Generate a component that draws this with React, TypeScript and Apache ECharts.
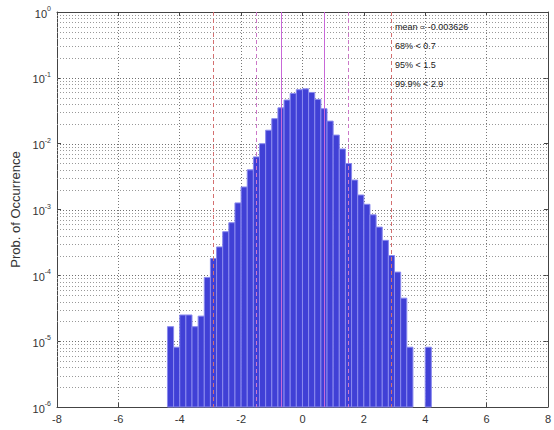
import React, { useEffect, useRef } from "react";
import * as echarts from "echarts";

// Histogram bin centres (bin width 0.2)
const binCenters = [
  -4.3, -4.1, -3.9, -3.7, -3.5, -3.3, -3.1, -2.9, -2.7, -2.5, -2.3,
  -2.1, -1.9, -1.7, -1.5, -1.3, -1.1, -0.9, -0.7, -0.5, -0.3, -0.1,
  0.1, 0.3, 0.5, 0.7, 0.9, 1.1, 1.3, 1.5, 1.7, 1.9, 2.1,
  2.3, 2.5, 2.7, 2.9, 3.1, 3.3, 3.5, 3.7, 3.9, 4.1, 4.3,
];
// Probability of occurrence per bin (0 = empty bin)
const probs = [
  1.66e-5, 8.1e-6, 2.5e-5, 2.5e-5, 1.66e-5, 2.4e-5, 9.3e-5, 1.8e-4, 2.7e-4, 4.6e-4, 6.3e-4,
  1.26e-3, 2.2e-3, 4.0e-3, 6.3e-3, 0.010, 0.016, 0.024, 0.035, 0.046, 0.058, 0.066,
  0.068, 0.06, 0.047, 0.034, 0.022, 0.0135, 8.3e-3, 5.0e-3, 2.8e-3, 1.66e-3, 1.2e-3,
  8.3e-4, 5.4e-4, 3.4e-4, 2.0e-4, 1.12e-4, 4.5e-5, 8.1e-6, 0, 0, 8.1e-6, 0,
];
const binWidth = 0.2;

// Percentile markers
const lines68 = [-0.7, 0.7];
const lines95 = [-1.5, 1.5];
const lines999 = [-2.9, 2.9];

const annotations = ["mean = -0.003626", "68% < 0.7", "95% < 1.5", "99.9% < 2.9"];

// Axis definitions
const xTicks = [-8, -6, -4, -2, 0, 2, 4, 6, 8];
const yDecades = [1e-6, 1e-5, 1e-4, 1e-3, 1e-2, 1e-1, 1];
const minorMultipliers = [2, 3, 4, 5, 6, 7, 8, 9];

const FONT = "'Liberation Sans', Arial, Helvetica, sans-serif";

export default function App() {
  const ref = useRef<HTMLDivElement>(null);

  useEffect(() => {
    if (!ref.current) return;
    const chart = echarts.init(ref.current, null, { renderer: "svg" });

    const barData = binCenters
      .map((c, i) => [c, probs[i]])
      .filter((d) => d[1] > 0);

    const minorGrid: number[][] = [];
    yDecades.slice(0, -1).forEach((d) => {
      minorMultipliers.forEach((m) => minorGrid.push([-8, d * m]));
    });
    const majorGrid = yDecades.slice(1, -1).map((d) => [-8, d]);

    const hLineRender = (color: string) => (params: any, api: any) => {
      const v = api.value(1);
      const p1 = api.coord([xTicks[0], v]);
      const p2 = api.coord([xTicks[xTicks.length - 1], v]);
      return {
        type: "line",
        shape: { x1: p1[0], y1: Math.round(p1[1]) + 0.5, x2: p2[0], y2: Math.round(p1[1]) + 0.5 },
        style: { stroke: color, lineWidth: 1, lineDash: [1, 2] },
        silent: true,
      };
    };

    const vLineRender = (color: string, dash: number[] | null) => (params: any, api: any) => {
      const x = api.value(0);
      const p1 = api.coord([x, 1]);
      const p2 = api.coord([x, 1e-6]);
      const xx = Math.round(p1[0]) + 0.5;
      return {
        type: "line",
        shape: { x1: xx, y1: p1[1], x2: xx, y2: p2[1] },
        style: { stroke: color, lineWidth: 1, lineDash: dash || undefined },
        silent: true,
      };
    };

    const option: any = {
      animation: false,
      backgroundColor: "#ffffff",
      textStyle: { fontFamily: FONT },
      grid: { left: 57, right: 5, top: 12, bottom: 23, containLabel: false },
      xAxis: [
        {
          type: "value",
          min: -8,
          max: 8,
          interval: 2,
          position: "bottom",
          axisLine: { show: true, onZero: false, lineStyle: { color: "#444", width: 1 } },
          axisTick: { show: true, inside: true, length: 4, lineStyle: { color: "#444" } },
          axisLabel: { color: "#333", fontSize: 11, margin: 6, fontFamily: FONT },
          splitLine: { show: true, lineStyle: { color: "#777", type: [1, 2], width: 1 } },
        },
        {
          type: "value",
          min: -8,
          max: 8,
          interval: 2,
          position: "top",
          axisLine: { show: true, onZero: false, lineStyle: { color: "#444", width: 1 } },
          axisTick: { show: true, inside: true, length: 4, lineStyle: { color: "#444" } },
          axisLabel: { show: false },
          splitLine: { show: false },
        },
      ],
      yAxis: [
        {
          type: "log",
          logBase: 10,
          min: 1e-6,
          max: 1,
          interval: 1,
          position: "left",
          name: "Prob. of Occurrence",
          nameLocation: "middle",
          nameGap: 30,
          nameTextStyle: { color: "#333", fontSize: 13, fontFamily: FONT },
          axisLine: { show: true, onZero: false, lineStyle: { color: "#444", width: 1 } },
          axisTick: { show: true, inside: true, length: 4, lineStyle: { color: "#444" } },
          axisLabel: {
            color: "#333",
            margin: 6,
            formatter: (v: number) => {
              const e = Math.round(Math.log10(v));
              return `{b|10}{s|${e}}`;
            },
            rich: {
              b: { fontSize: 11, lineHeight: 14, color: "#333", fontFamily: FONT, verticalAlign: "bottom" },
              s: { fontSize: 7, lineHeight: 8, color: "#333", fontFamily: FONT, verticalAlign: "top" },
            },
          },
          splitLine: { show: false },
        },
        {
          type: "log",
          logBase: 10,
          min: 1e-6,
          max: 1,
          interval: 1,
          position: "right",
          axisLine: { show: true, onZero: false, lineStyle: { color: "#444", width: 1 } },
          axisTick: { show: true, inside: true, length: 4, lineStyle: { color: "#444" } },
          axisLabel: { show: false },
          splitLine: { show: false },
        },
      ],
      series: [
        {
          type: "custom",
          name: "minorGrid",
          z: 1,
          xAxisIndex: 0,
          yAxisIndex: 0,
          silent: true,
          renderItem: hLineRender("#999999"),
          data: minorGrid,
        },
        {
          type: "custom",
          name: "majorGrid",
          z: 1,
          xAxisIndex: 0,
          yAxisIndex: 0,
          silent: true,
          renderItem: hLineRender("#707070"),
          data: majorGrid,
        },
        {
          type: "custom",
          name: "hist",
          z: 2,
          xAxisIndex: 0,
          yAxisIndex: 0,
          renderItem: (params: any, api: any) => {
            const c = api.value(0);
            const v = api.value(1);
            const p1 = api.coord([c - binWidth / 2, v]);
            const p2 = api.coord([c + binWidth / 2, 1e-6]);
            return {
              type: "rect",
              shape: { x: p1[0], y: p1[1], width: p2[0] - p1[0], height: p2[1] - p1[1] },
              style: { fill: "#4040d6", stroke: "#8a8aee", lineWidth: 1 },
            };
          },
          data: barData,
        },
        {
          type: "custom",
          name: "p68",
          z: 3,
          xAxisIndex: 0,
          yAxisIndex: 0,
          silent: true,
          renderItem: vLineRender("#c868d8", null),
          data: lines68.map((x) => [x, 0.01]),
        },
        {
          type: "custom",
          name: "p95",
          z: 3,
          xAxisIndex: 0,
          yAxisIndex: 0,
          silent: true,
          renderItem: vLineRender("#cc78c8", [4, 3]),
          data: lines95.map((x) => [x, 0.01]),
        },
        {
          type: "custom",
          name: "p999",
          z: 3,
          xAxisIndex: 0,
          yAxisIndex: 0,
          silent: true,
          renderItem: vLineRender("#d47070", [4, 3]),
          data: lines999.map((x) => [x, 0.01]),
        },
      ],
      graphic: annotations.map((t, i) => ({
        type: "text",
        left: 395,
        top: 22 + i * 19,
        z: 10,
        style: { text: t, fill: "#222", fontSize: 9, fontFamily: FONT },
      })),
    };

    chart.setOption(option);
    return () => chart.dispose();
  }, []);

  return (
    <div
      ref={ref}
      style={{ position: "fixed", left: 0, top: 0, width: 554, height: 430, background: "#fff" }}
    />
  );
}
